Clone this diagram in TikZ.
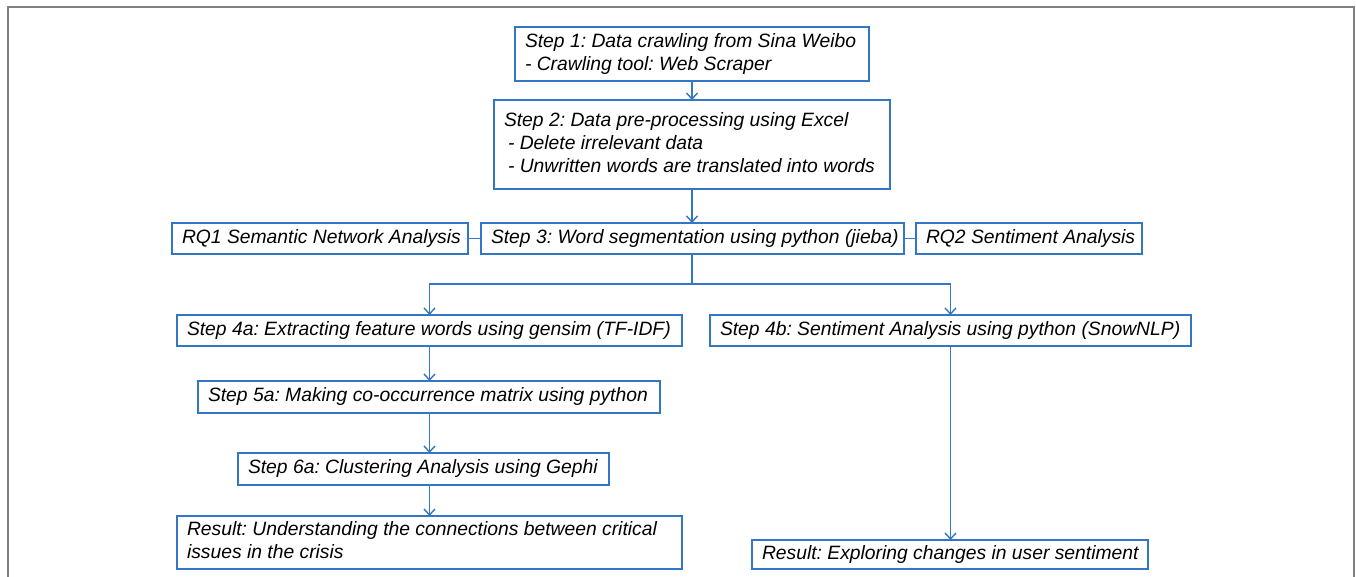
\documentclass[tikz,border=0pt]{standalone}
\usepackage{fontspec}
\setmainfont{Liberation Sans}
\usetikzlibrary{arrows.meta}
\definecolor{flowblue}{RGB}{50,118,196}
\definecolor{framegray}{RGB}{128,128,128}
\frenchspacing
% left-aligned block of lines inside a box of fixed inner width (no wrapping)
\newcommand\lft[2]{\makebox[#1][l]{\begin{tabular}{@{}l@{}}#2\end{tabular}}}
\begin{document}
\begin{tikzpicture}[x=1pt,y=-1pt,
  stepbox/.style={draw=flowblue, line width=1.8pt, inner xsep=10pt, inner ysep=0pt,
    outer sep=0pt, anchor=north west, minimum height=31pt,
    font=\fontsize{19.3}{23}\selectfont\itshape},
  link/.style={draw=flowblue, line width=1.4pt},
  flow/.style={link, -{Straight Barb[length=6pt,width=11pt,line width=1.4pt]}}
]
\useasboundingbox (0,0) rectangle (1356,577);
% outer frame
\draw[framegray, line width=2pt] (8,577) -- (8,7) -- (1354,7) -- (1354,577);

% steps
\node[stepbox, minimum height=54pt] (s1) at (515,27)
  {\lft{334pt}{Step 1: Data crawling from Sina Weibo\\- Crawling tool: Web Scraper}};
\node[stepbox, minimum height=89pt] (s2) at (494,100)
  {\lft{376pt}{Step 2: Data pre-processing using Excel\\
   \hspace*{4pt}- Delete irrelevant data\\
   \hspace*{4pt}- Unwritten words are translated into words}};
\node[stepbox] (rq1) at (172,223) {\lft{276pt}{RQ1 Semantic Network Analysis}};
\node[stepbox] (s3) at (481,223) {\lft{403pt}{Step 3: Word segmentation using python (jieba)}};
\node[stepbox] (rq2) at (916,223) {\lft{206pt}{RQ2 Sentiment Analysis}};
\node[stepbox] (s4a) at (177,315) {\lft{485pt}{Step 4a: Extracting feature words using gensim (TF-IDF)}};
\node[stepbox] (s4b) at (710,315) {\lft{461pt}{Step 4b: Sentiment Analysis using python (SnowNLP)}};
\node[stepbox, minimum height=32pt] (s5a) at (198,381) {\lft{442pt}{Step 5a: Making co-occurrence matrix using python}};
\node[stepbox, minimum height=32pt] (s6a) at (238,453) {\lft{351pt}{Step 6a: Clustering Analysis using Gephi}};
\node[stepbox, minimum height=53pt] (ra) at (177,516)
  {\lft{485pt}{Result: Understanding the connections between critical\\issues in the crisis}};
\node[stepbox, minimum height=29pt] (rb) at (752,540) {\lft{376pt}{Result: Exploring changes in user sentiment}};

% connectors
\draw[flow] (s1.south) -- (s2.north);
\draw[flow] (s2.south) -- (s2.south |- s3.north);
\draw[link] (rq1.east) -- (s3.west);
\draw[link] (s3.east) -- (rq2.west);
\draw[link] (s2.south |- s3.south) -- ++(0,30) coordinate (split);
\draw[flow] (split) -| (s4a.north);
\draw[flow] (split) -| (s4b.north);
\draw[flow] (s4a.south) -- (s4a.south |- s5a.north);
\draw[flow] (s4a.south |- s5a.south) -- (s4a.south |- s6a.north);
\draw[flow] (s4a.south |- s6a.south) -- (ra.north);
\draw[flow] (s4b.south) -- (s4b.south |- rb.north);
\end{tikzpicture}
\end{document}
